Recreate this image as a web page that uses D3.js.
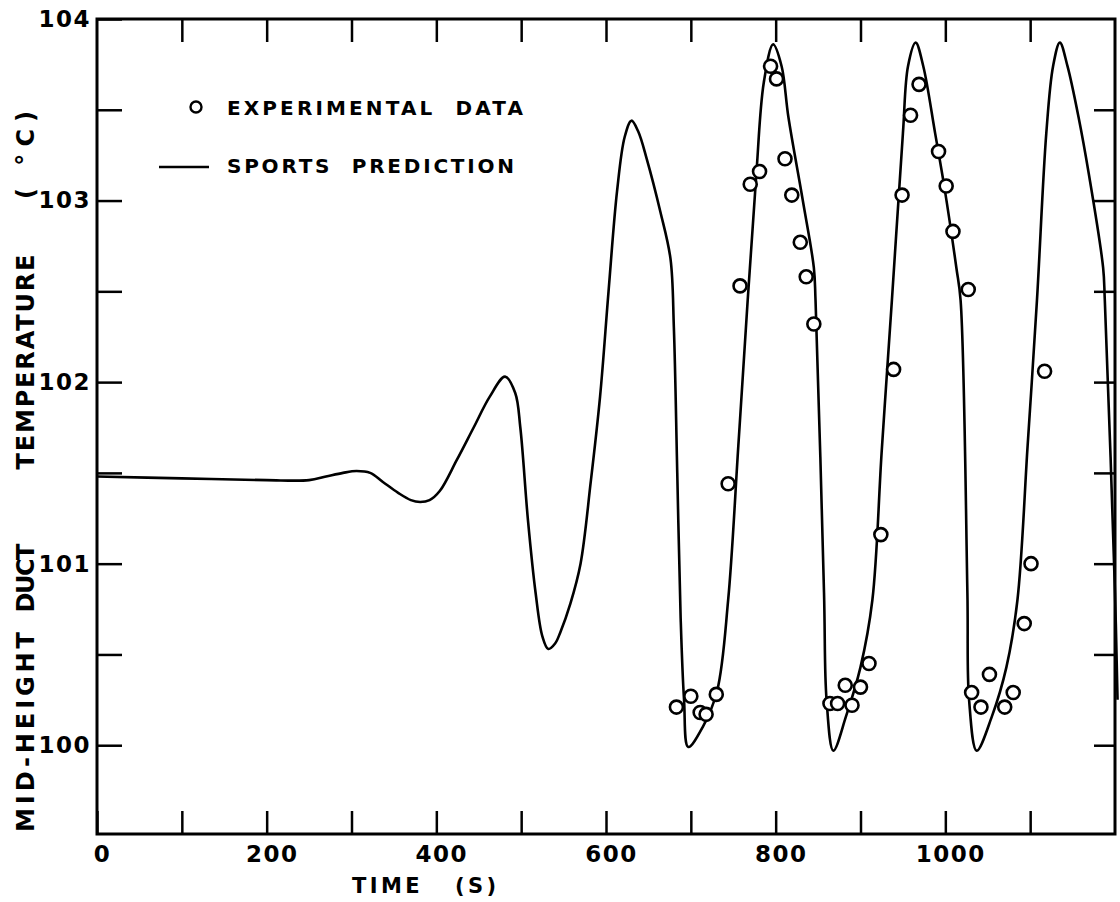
<!DOCTYPE html>
<html>
<head>
<meta charset="utf-8">
<title>Mid-height duct temperature</title>
<style type="text/css">
  body { margin: 0; background: #fff; }
  text { font-family: "DejaVu Sans", sans-serif; font-weight: bold; fill: #000; }
</style>
</head>
<body>
<script src="https://d3js.org/d3.v7.min.js"></script>
<script type="text/javascript">
// SPORTS prediction curve (time s, temperature C)
const predTime = [0, 100, 200, 250, 270, 290, 306, 322, 337, 355, 370, 381, 392, 404, 424, 444,
  463, 481, 493, 499, 508, 517, 525, 532, 540, 546, 558, 570, 582, 593, 603, 613, 622, 630, 638,
  648, 664, 676, 680, 684, 688, 692, 697, 714, 731,
  744, 756, 767, 777, 786, 797, 807, 815, 832, 845, 847, 857, 860, 868, 883, 900, 914, 925, 937,
  950, 956, 965, 974, 988, 999, 1013, 1018, 1026, 1028, 1037, 1055, 1072, 1085, 1097, 1108, 1119,
  1127, 1135, 1144, 1157, 1169, 1186, 1188, 1200, 1203];
const predTemp = [101.48, 101.47, 101.46, 101.46, 101.48, 101.50, 101.51, 101.50, 101.45, 101.39,
  101.35, 101.34, 101.35, 101.40, 101.57, 101.75, 101.92, 102.03, 101.94, 101.75, 101.24, 100.84,
  100.60, 100.53, 100.56, 100.62, 100.78, 101.00, 101.45, 101.92, 102.50, 103.05, 103.35, 103.44,
  103.38, 103.23, 102.94, 102.68, 102.30, 101.50, 100.70, 100.25, 99.99, 100.10, 100.30,
  100.80, 101.65, 102.45, 103.13, 103.65, 103.86, 103.74, 103.46, 103.00, 102.63, 102.45,
  100.84, 100.25, 99.97, 100.16, 100.43, 100.80, 101.62, 102.45, 103.37, 103.74, 103.87, 103.74,
  103.37, 103.07, 102.63, 102.45, 100.84, 100.25, 99.97, 100.16, 100.43, 100.80, 101.65, 102.45,
  103.37, 103.74, 103.87, 103.74, 103.46, 103.15, 102.63, 102.45, 100.84, 100.25];

// experimental data points
const expTime = [683, 700, 711, 718, 730, 744, 758, 770, 781, 794, 801, 811, 819, 829, 836, 845,
  864, 873, 882, 890, 900, 910, 924, 939, 949, 959, 969, 992, 1001, 1009, 1027,
  1031, 1042, 1052, 1070, 1080, 1093, 1101, 1117];
const expTemp = [100.21, 100.27, 100.18, 100.17, 100.28, 101.44, 102.53, 103.09, 103.16, 103.74,
  103.67, 103.23, 103.03, 102.77, 102.58, 102.32,
  100.23, 100.23, 100.33, 100.22, 100.32, 100.45, 101.16, 102.07, 103.03, 103.47, 103.64, 103.27,
  103.08, 102.83, 102.51,
  100.29, 100.21, 100.39, 100.21, 100.29, 100.67, 101.00, 102.06];

// ticks
const xTicks = d3.range(0, 1200, 100);
const xLabels = [0, 200, 400, 600, 800, 1000];
const yTicks = d3.range(100, 104.01, 0.5);
const yLabels = [100, 101, 102, 103, 104];

const W = 1120, H = 902;
const margin = {left: 97, right: 1115, top: 19, bottom: 834};

const svg = d3.select('body').append('svg')
  .attr('width', W).attr('height', H);
svg.append('rect').attr('width', W).attr('height', H).attr('fill', '#fff');

const x = d3.scaleLinear().domain([0, 1200]).range([margin.left, margin.right]);
const y = d3.scaleLinear().domain([99.5, 104]).range([margin.bottom + 2, margin.top]);

function styleAxis(g) {
  g.select('.domain').remove();
  g.selectAll('.tick line').attr('stroke', '#000').attr('stroke-width', 2.5);
  g.selectAll('.tick text').attr('font-size', 23).attr('font-family', '"DejaVu Sans", sans-serif')
    .attr('font-weight', 'bold').attr('fill', '#000').attr('letter-spacing', 1.5);
}

// bottom
svg.append('g').attr('transform', `translate(0,${margin.bottom})`)
  .call(d3.axisBottom(x).tickValues(xTicks).tickSizeInner(-23).tickSizeOuter(0).tickPadding(12)
    .tickFormat(d => xLabels.includes(d) ? d : ''))
  .call(styleAxis)
  .call(g => g.selectAll('.tick text').attr('dx', 5));
// top
svg.append('g').attr('transform', `translate(0,${margin.top})`)
  .call(d3.axisTop(x).tickValues(xTicks.slice(1)).tickSizeInner(-23).tickSizeOuter(0).tickFormat(''))
  .call(styleAxis);
// left
svg.append('g').attr('transform', `translate(${margin.left},0)`)
  .call(d3.axisLeft(y).tickValues(yTicks).tickSizeInner(-25).tickSizeOuter(0).tickPadding(6)
    .tickFormat(d => yLabels.includes(d) ? d : ''))
  .call(styleAxis);
// right
svg.append('g').attr('transform', `translate(${margin.right},0)`)
  .call(d3.axisRight(y).tickValues(yTicks.filter(d => d < 104)).tickSizeInner(-21).tickSizeOuter(0).tickFormat(''))
  .call(styleAxis);

// frame
svg.append('rect')
  .attr('x', margin.left).attr('y', margin.top)
  .attr('width', margin.right - margin.left).attr('height', margin.bottom - margin.top)
  .attr('fill', 'none').attr('stroke', '#000').attr('stroke-width', 3);

// prediction curve
const pts = predTime.map((t, i) => [t, predTemp[i]]);
const line = d3.line().x(d => x(d[0])).y(d => y(d[1])).curve(d3.curveCatmullRom.alpha(0.5));
svg.append('path').datum(pts)
  .attr('d', line).attr('fill', 'none').attr('stroke', '#000').attr('stroke-width', 2.6)
  .attr('stroke-linejoin', 'round');

// experimental circles
svg.append('g').selectAll('circle')
  .data(expTime.map((t, i) => [t, expTemp[i]]))
  .join('circle')
  .attr('cx', d => x(d[0])).attr('cy', d => y(d[1])).attr('r', 6.5)
  .attr('fill', '#fff').attr('stroke', '#000').attr('stroke-width', 2.6);

// legend
svg.append('circle').attr('cx', 196).attr('cy', 107).attr('r', 5.5)
  .attr('fill', 'none').attr('stroke', '#000').attr('stroke-width', 2.4);
svg.append('text').attr('x', 227).attr('y', 115).attr('font-size', 20)
  .attr('textLength', 296).attr('lengthAdjust', 'spacing').style('white-space', 'pre')
  .text('EXPERIMENTAL  DATA');
svg.append('line').attr('x1', 159).attr('x2', 209).attr('y1', 167).attr('y2', 167)
  .attr('stroke', '#000').attr('stroke-width', 2.4);
svg.append('text').attr('x', 227).attr('y', 173).attr('font-size', 20)
  .attr('textLength', 287).attr('lengthAdjust', 'spacing').style('white-space', 'pre')
  .text('SPORTS  PREDICTION');

// x title
svg.append('text').attr('x', 352).attr('y', 893).attr('font-size', 21)
  .attr('textLength', 144).attr('lengthAdjust', 'spacing').style('white-space', 'pre')
  .text('TIME   (S)');

// y title, word by word
const yWords = ['MID-HEIGHT', 'DUCT', 'TEMPERATURE', '( °C)'];
const yWordMid = [732, 578, 362, 155];
const yWordLen = [200, 69, 215, 88];
const yt = svg.append('g').attr('transform', 'translate(34,0) rotate(-90)');
yt.selectAll('text').data(yWords).join('text')
  .attr('x', (d, i) => -yWordMid[i]).attr('y', 0)
  .attr('text-anchor', 'middle').attr('font-size', 24)
  .attr('textLength', (d, i) => yWordLen[i]).attr('lengthAdjust', 'spacing')
  .style('white-space', 'pre')
  .text(d => d);
</script>
</body>
</html>
